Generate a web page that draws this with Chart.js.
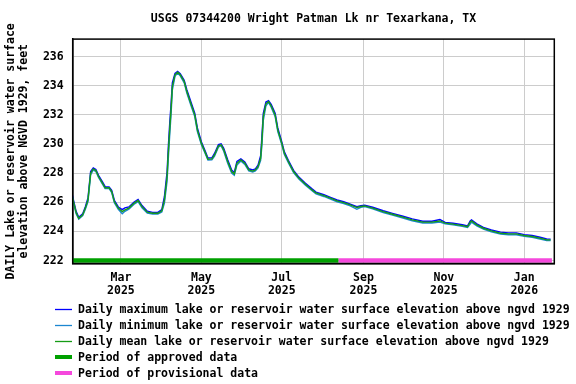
<!DOCTYPE html>
<html>
<head>
<meta charset="utf-8">
<script src="https://cdn.jsdelivr.net/npm/chart.js@4.4.1/dist/chart.umd.min.js"></script>
<style>
  html, body { margin: 0; padding: 0; background: #fff; }
  #wrap { position: relative; width: 576px; height: 384px; overflow: hidden; background: #fff; }
  #c { position: absolute; left: 0; top: 0; }
  #sw { position: absolute; left: 0; top: 0; }
  .lg { position: absolute; left: 78px; height: 14px; font-family: 'DejaVu Sans Mono', monospace; font-weight: bold; font-size: 11.5px; line-height: 14px; color: #000; white-space: nowrap; }
</style>
</head>
<body>
<div id="wrap">
  <canvas id="c" width="576" height="300"></canvas>
  <canvas id="sw" width="576" height="384"></canvas>
  <div id="legend"></div>
</div>
<script>
// ---- data ----
const titleText = 'USGS 07344200 Wright Patman Lk nr Texarkana, TX';
const yTitle = ['DAILY Lake or reservoir water surface', 'elevation above NGVD 1929, feet'];

const dates = [
  '2025-01-22','2025-01-24','2025-01-26','2025-01-28','2025-01-31','2025-02-02','2025-02-04','2025-02-06',
  '2025-02-08','2025-02-10','2025-02-12','2025-02-15','2025-02-17','2025-02-20','2025-02-22','2025-02-24',
  '2025-02-27','2025-03-02','2025-03-04','2025-03-07','2025-03-11','2025-03-14','2025-03-17','2025-03-21',
  '2025-03-25','2025-03-29','2025-04-01','2025-04-03','2025-04-05','2025-04-06','2025-04-07','2025-04-08',
  '2025-04-09','2025-04-11','2025-04-13','2025-04-15','2025-04-18','2025-04-20','2025-04-23','2025-04-26',
  '2025-04-28','2025-05-01','2025-05-04','2025-05-06','2025-05-09','2025-05-11','2025-05-14','2025-05-16',
  '2025-05-18','2025-05-21','2025-05-24','2025-05-26','2025-05-28','2025-05-31','2025-06-03','2025-06-06',
  '2025-06-09','2025-06-11','2025-06-13','2025-06-15','2025-06-16','2025-06-17','2025-06-19','2025-06-21',
  '2025-06-23','2025-06-26','2025-06-28','2025-07-01','2025-07-03','2025-07-06','2025-07-10','2025-07-14',
  '2025-07-19','2025-07-24','2025-07-27','2025-08-02','2025-08-07','2025-08-12','2025-08-17','2025-08-22',
  '2025-08-27','2025-08-30','2025-09-02','2025-09-08','2025-09-16','2025-09-23','2025-10-01','2025-10-08',
  '2025-10-16','2025-10-23','2025-10-29','2025-11-02','2025-11-08','2025-11-15','2025-11-19','2025-11-21',
  '2025-11-22','2025-11-26','2025-12-01','2025-12-07','2025-12-14','2025-12-20','2025-12-26','2026-01-01',
  '2026-01-07','2026-01-13','2026-01-18','2026-01-21'
];
const meanVals = [
  226.90,226.05,225.30,224.90,225.14,225.60,226.17,228.00,
  228.29,228.18,227.77,227.31,227.00,227.00,226.74,226.05,
  225.60,225.36,225.48,225.60,225.94,226.12,225.70,225.32,
  225.25,225.25,225.41,226.17,227.77,229.50,231.00,232.34,
  233.94,234.75,234.93,234.75,234.29,233.60,232.80,232.00,
  230.97,230.06,229.41,228.96,228.98,229.25,229.87,229.94,
  229.60,228.80,228.11,227.95,228.68,228.91,228.68,228.22,
  228.14,228.22,228.45,229.03,230.28,231.88,232.76,232.92,
  232.62,232.00,230.97,230.06,229.37,228.80,228.11,227.66,
  227.24,226.85,226.64,226.46,226.28,226.10,225.98,225.82,
  225.64,225.71,225.75,225.60,225.36,225.18,224.98,224.79,
  224.64,224.64,224.72,224.57,224.50,224.40,224.33,224.63,
  224.72,224.45,224.22,224.04,223.88,223.83,223.83,223.72,
  223.65,223.54,223.42,223.42
];
const maxVals = [
  226.98,226.14,225.38,224.97,225.22,225.70,226.30,228.12,
  228.36,228.25,227.85,227.40,227.07,227.06,226.82,226.14,
  225.68,225.50,225.62,225.68,226.02,226.20,225.78,225.39,
  225.31,225.31,225.50,226.40,228.10,229.90,231.40,232.70,
  234.20,234.85,234.98,234.82,234.38,233.72,232.92,232.12,
  231.10,230.16,229.50,229.04,229.05,229.35,229.96,230.01,
  229.70,228.92,228.22,228.05,228.80,228.98,228.76,228.30,
  228.22,228.30,228.55,229.20,230.60,232.10,232.88,232.98,
  232.72,232.12,231.10,230.16,229.46,228.88,228.19,227.73,
  227.31,226.92,226.70,226.52,226.34,226.16,226.04,225.88,
  225.70,225.76,225.80,225.66,225.42,225.24,225.04,224.86,
  224.70,224.70,224.82,224.62,224.56,224.46,224.38,224.72,
  224.80,224.52,224.28,224.10,223.95,223.90,223.90,223.78,
  223.72,223.60,223.48,223.47
];
const minVals = [
  226.82,225.97,225.22,224.84,225.08,225.52,226.05,227.88,
  228.22,228.11,227.70,227.24,226.94,226.95,226.66,225.97,
  225.52,225.22,225.38,225.53,225.87,226.05,225.62,225.26,
  225.20,225.20,225.34,225.95,227.45,229.10,230.60,232.00,
  233.70,234.65,234.88,234.68,234.20,233.50,232.68,231.88,
  230.85,229.96,229.33,228.90,228.92,229.16,229.80,229.88,
  229.50,228.68,228.00,227.85,228.55,228.84,228.60,228.15,
  228.08,228.15,228.36,228.88,229.95,231.60,232.62,232.86,
  232.52,231.88,230.85,229.96,229.28,228.72,228.04,227.59,
  227.18,226.79,226.58,226.40,226.22,226.04,225.92,225.76,
  225.52,225.66,225.70,225.55,225.30,225.12,224.92,224.73,
  224.58,224.58,224.64,224.52,224.45,224.35,224.28,224.50,
  224.64,224.38,224.16,223.98,223.82,223.77,223.77,223.66,
  223.60,223.48,223.37,223.38
];
const approvedPeriod = ['2025-01-22', '2025-08-13'];
const provisionalPeriod = ['2025-08-13', '2026-01-22'];
const periodLevel = 222;

const xTickDates = ['2025-03-01','2025-05-01','2025-07-01','2025-09-01','2025-11-01','2026-01-01'];
const xTickLabels = [['Mar','2025'],['May','2025'],['Jul','2025'],['Sep','2025'],['Nov','2025'],['Jan','2026']];
const yTicks = [222, 224, 226, 228, 230, 232, 234, 236];

const legendItems = [
  {label: 'Daily maximum lake or reservoir water surface elevation above ngvd 1929', color: '#0000ff', thick: false},
  {label: 'Daily minimum lake or reservoir water surface elevation above ngvd 1929', color: '#1c86d0', thick: false},
  {label: 'Daily mean lake or reservoir water surface elevation above ngvd 1929', color: '#169c16', thick: false},
  {label: 'Period of approved data', color: '#00a000', thick: true},
  {label: 'Period of provisional data', color: '#f548dc', thick: true}
];

// ---- helpers ----
const base = Date.UTC(2025, 0, 1);
function dayNum(s) {
  const p = s.split('-').map(Number);
  return (Date.UTC(p[0], p[1] - 1, p[2]) - base) / 86400000;
}
function series(vals) { return dates.map((d, i) => ({x: dayNum(d), y: vals[i]})); }
function period(pr) { return [{x: dayNum(pr[0]), y: periodLevel}, {x: dayNum(pr[1]), y: periodLevel}]; }

const FONT = {family: "'DejaVu Sans Mono', monospace", size: 11.5, weight: 'bold', lineHeight: 1.18};

const frame = {
  id: 'frame',
  afterDatasetsDraw(chart) {
    const a = chart.chartArea, ctx = chart.ctx;
    ctx.save();
    ctx.strokeStyle = '#000';
    ctx.lineWidth = 1.5;
    ctx.strokeRect(a.left, a.top, a.right - a.left, a.bottom - a.top);
    ctx.restore();
  }
};

const lineDs = (label, vals, color, order) => ({
  label, data: series(vals), borderColor: color, backgroundColor: color,
  borderWidth: 1.4, pointRadius: 0, tension: 0, fill: false, order
});

new Chart(document.getElementById('c'), {
  type: 'line',
  data: {
    datasets: [
      lineDs(legendItems[0].label, maxVals, legendItems[0].color, 3),
      lineDs(legendItems[1].label, minVals, legendItems[1].color, 2),
      lineDs(legendItems[2].label, meanVals, legendItems[2].color, 1),
      {label: legendItems[3].label, data: period(approvedPeriod), borderColor: legendItems[3].color, borderWidth: 4.5, pointRadius: 0, borderCapStyle: 'butt', order: 0},
      {label: legendItems[4].label, data: period(provisionalPeriod), borderColor: legendItems[4].color, borderWidth: 4.5, pointRadius: 0, borderCapStyle: 'butt', order: 0}
    ]
  },
  options: {
    responsive: false,
    animation: false,
    devicePixelRatio: 1,
    layout: {padding: {left: 0, right: 21.7, top: 0, bottom: 0}},
    plugins: {
      legend: {display: false},
      tooltip: {enabled: false},
      title: {
        display: true, text: titleText, color: '#000', fullSize: false,
        font: {family: FONT.family, size: 11.5, weight: 'bold', lineHeight: 1.2},
        padding: {top: 12.5, bottom: 12.8}
      }
    },
    scales: {
      x: {
        type: 'linear', min: 22.4, max: 387.8,
        afterBuildTicks: s => { s.ticks = xTickDates.map(d => ({value: dayNum(d)})); },
        afterFit: s => { s.height = 36.5; },
        grid: {color: '#cccccc', lineWidth: 1, drawTicks: false},
        border: {display: true, color: '#000', width: 1.5},
        ticks: {
          autoSkip: false, maxRotation: 0, minRotation: 0, padding: 7.4, color: '#000', font: FONT,
          callback: (v, i) => xTickLabels[i]
        }
      },
      y: {
        type: 'linear', min: 221.8, max: 237.2,
        afterBuildTicks: s => { s.ticks = yTicks.map(v => ({value: v})); },
        afterFit: s => { s.width = 72.7; },
        grid: {color: '#cccccc', lineWidth: 1, drawTicks: false},
        border: {display: true, color: '#000', width: 1.5},
        ticks: {padding: 9, color: '#000', font: FONT, callback: v => String(v)},
        title: {display: true, text: yTitle, color: '#000', font: {family: FONT.family, size: 11.5, weight: 'bold', lineHeight: 1.17}, padding: {top: 4.2, bottom: 0}}
      }
    }
  },
  plugins: [frame]
});

// ---- legend: swatches on a canvas, labels as HTML text ----
const lg = document.getElementById('legend');
const sctx = document.getElementById('sw').getContext('2d');
const rowCenters = [309, 325, 341, 357, 373];
legendItems.forEach((it, i) => {
  const yc = rowCenters[i];
  sctx.strokeStyle = it.color;
  sctx.lineWidth = it.thick ? 4 : 1.3;
  sctx.beginPath();
  sctx.moveTo(55, it.thick ? yc : yc + 0.5);
  sctx.lineTo(72, it.thick ? yc : yc + 0.5);
  sctx.stroke();
  const tx = document.createElement('div');
  tx.className = 'lg';
  tx.style.top = (yc - 7.5) + 'px';
  tx.textContent = it.label;
  lg.appendChild(tx);
});
</script>
</body>
</html>
